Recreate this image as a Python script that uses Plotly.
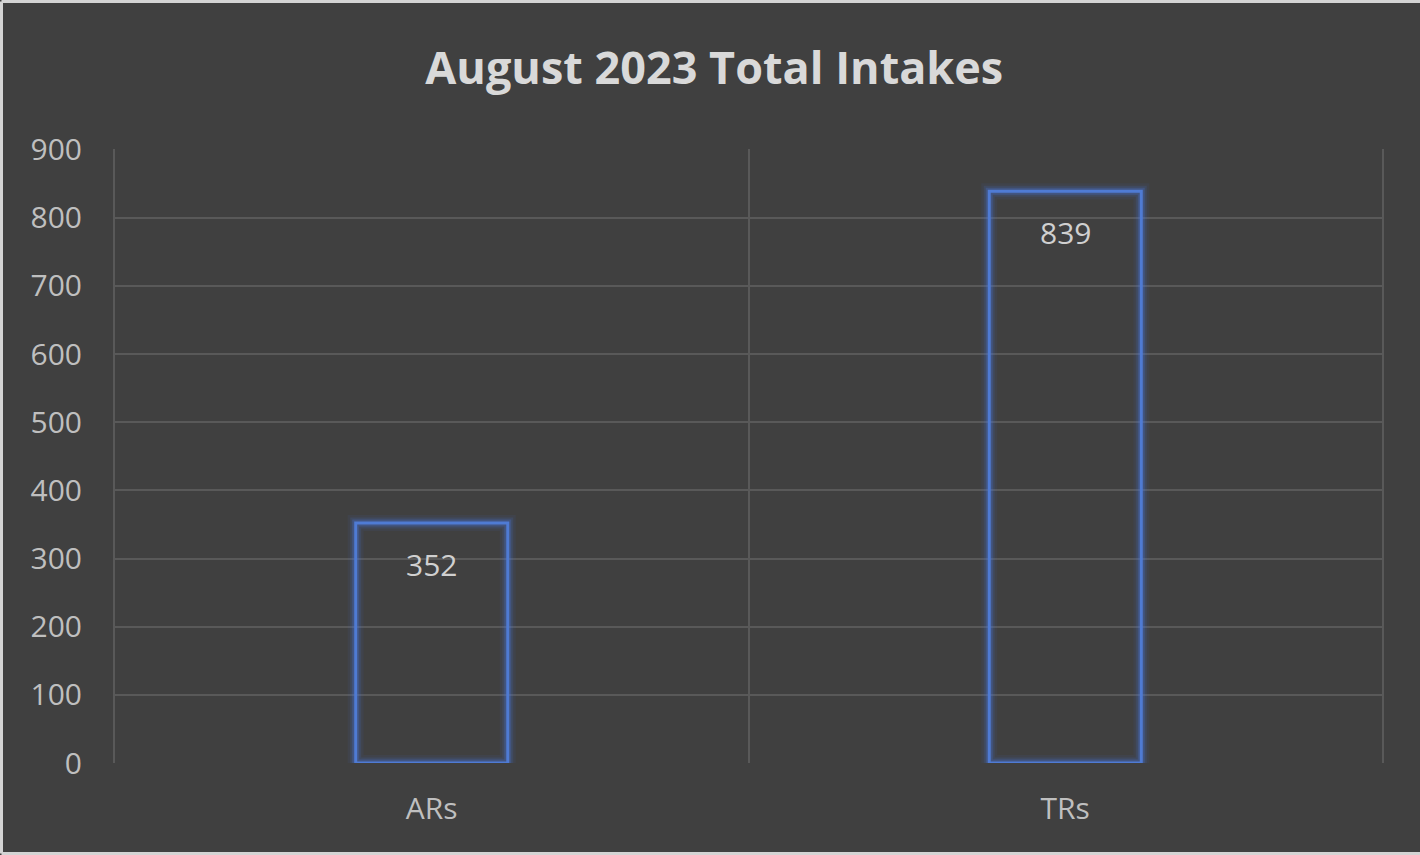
import plotly.graph_objects as go

categories = ["ARs", "TRs"]
values = [352, 839]
y_ticks = [0, 100, 200, 300, 400, 500, 600, 700, 800, 900]
title_text = "August 2023 Total Intakes"

W, H = 1420, 855
ml, mr, mt, mb = 115, 38, 149, 92
pw, ph = W - ml - mr, H - mt - mb

BG = "#404040"
BLUE = "#4f7bd4"
GRID = "#595959"

fig = go.Figure()

# glow layers
for lw, alpha in [(16, 0.07), (11, 0.13), (7, 0.25)]:
    fig.add_trace(go.Bar(
        x=categories, y=values, width=0.24,
        marker=dict(color="rgba(0,0,0,0)", line=dict(color=f"rgba(70,120,230,{alpha})", width=lw)),
        hoverinfo="skip", showlegend=False,
    ))

fig.add_trace(go.Bar(
    x=categories, y=values, width=0.24,
    marker=dict(color="rgba(0,0,0,0)", line=dict(color=BLUE, width=3)),
    showlegend=False,
))

for c, v in zip(categories, values):
    fig.add_annotation(x=c, y=v, text=str(v), showarrow=False, yanchor="middle",
                       yshift=-41, font=dict(family="Open Sans", size=30, color="#d0d0d0"))

# light frame on left, top and bottom edges of the picture
xl = (-ml + 1.5) / pw
xr = 1 + (mr + 5) / pw
yb = (-mb + 1.5) / ph
yt = 1 + (mt - 1.5) / ph
frame = dict(color="#d4d4d4", width=3)
for x0, y0, x1, y1 in [(xl, yb, xl, yt), (xl, yt, xr, yt), (xl, yb, xr, yb)]:
    fig.add_shape(type="line", xref="paper", yref="paper", x0=x0, y0=y0, x1=x1, y1=y1,
                  line=frame, layer="above")

fig.update_layout(
    width=W, height=H,
    margin=dict(l=ml, r=mr, t=mt, b=mb),
    paper_bgcolor=BG, plot_bgcolor=BG,
    barmode="overlay",
    title=dict(text=title_text, x=0.503, xanchor="center", y=0.92, yanchor="middle",
               font=dict(family="Open Sans", size=45, color="#d9d9d9", weight="bold")),
    xaxis=dict(type="category", range=[-0.5, 1.5], tickson="boundaries",
               showgrid=True, gridcolor=GRID, gridwidth=2, ticks="", showline=False,
               tickfont=dict(family="Open Sans", size=30, color="#bfbfbf"),
               ticklabelstandoff=25),
    yaxis=dict(range=[0, 901], tickvals=y_ticks, showgrid=True, gridcolor=GRID, gridwidth=2,
               zeroline=False, ticks="", showline=True, mirror=True, linecolor=GRID, linewidth=2,
               tickfont=dict(family="Open Sans", size=30, color="#bfbfbf"),
               ticklabelstandoff=25),
)

fig.write_html("out.html", post_script="document.body.style.margin='0';",
               config={"displayModeBar": False})
